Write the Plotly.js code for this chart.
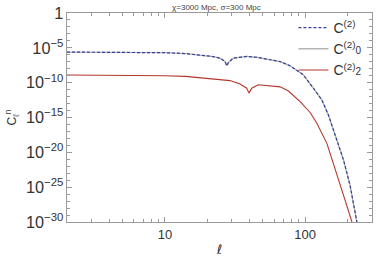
<!DOCTYPE html>
<html><head><meta charset="utf-8">
<script src="https://cdn.plot.ly/plotly-3.0.1.min.js"></script>
<style>html,body{margin:0;padding:0;background:#fff}#c{width:390px;height:260px}</style>
</head><body><div id="c"></div>
<script>
// multipole ell values and log10 of C_ell for each series
const ellC2 = [2,4,7,10,14,17.8,22,24.7,26.8,27.6,28.4,30.7,34,38.3,45,56.2,66.3,78.1,97.2,114.6,131.6,146.6,159.2,187.9,209,234];
const logC2 = [-5.61,-5.62,-5.65,-5.70,-5.82,-6.0,-6.25,-6.48,-6.96,-7.58,-7.1,-6.48,-6.32,-6.24,-6.35,-6.72,-6.97,-7.58,-8.88,-10.8,-12.48,-14.64,-16.8,-21.1,-24.7,-30.0];
const ellC20 = ellC2;
const logC20 = logC2;
const ellC22 = [2,4,7,10,14,17.8,24.7,29.1,34.3,38.3,39.8,41.6,46.3,56.2,66.3,76,92.1,108.6,121.2,142.9,158,172.6,193,215.8];
const logC22 = [-8.9,-8.9,-8.93,-9.0,-9.1,-9.27,-9.5,-9.7,-10.2,-10.8,-11.5,-10.8,-10.3,-10.42,-10.6,-11.2,-12.73,-14.28,-15.83,-18.71,-21.55,-24.0,-26.9,-30.0];
const names = ['C<sup>(2)</sup>','C<sup>(2)</sup><span style="font-size:10px">0</span>','C<sup>(2)</sup><span style="font-size:10px">2</span>'];
const titleText = 'χ=3000 Mpc, σ=300 Mpc';

const pw = a => a.map(v => Math.pow(10, v));
const traces = [
  {x: ellC20, y: pw(logC20), name: names[1], mode:'lines', line:{color:'#b3b3b3', width:1.3}, legendrank:2},
  {x: ellC22, y: pw(logC22), name: names[2], mode:'lines', line:{color:'#b5372b', width:1.1}, legendrank:3},
  {x: ellC2, y: pw(logC2), name: names[0], mode:'lines', line:{color:'#34419a', width:1.2, dash:'3px,2px'}, legendrank:1}
];
const axisCommon = {
  type:'log', showline:true, linecolor:'#9a9a9a', linewidth:1, mirror:'ticks',
  ticks:'inside', ticklen:5, tickcolor:'#9a9a9a', showgrid:false, zeroline:false, automargin:false,
  tickfont:{family:'Liberation Sans, Arial', size:13, color:'#333'}
};
const layout = {
  width:390, height:260, margin:{l:67, r:18, t:13, b:38},
  paper_bgcolor:'#fff', plot_bgcolor:'#fff',
  title:{text:titleText, font:{family:'Liberation Sans, Arial', size:8, color:'#444'}, x:0.555, xanchor:'center', y:0.985, yanchor:'top'},
  xaxis: Object.assign({}, axisCommon, {
    range:[Math.log10(2), Math.log10(300)], dtick:1, exponentformat:'none',
    minor:{dtick:'D1', ticks:'inside', ticklen:3, tickcolor:'#9a9a9a'},
    title:{text:'ℓ', font:{family:'DejaVu Sans', size:13, color:'#333'}, standoff:4}
  }),
  yaxis: Object.assign({}, axisCommon, {
    range:[-30, 0], dtick:5, exponentformat:'power',
    minor:{dtick:1, ticks:'inside', ticklen:3, tickcolor:'#9a9a9a'},
    title:{text:'C<sub>ℓ</sub><sup>n</sup>', font:{family:'Liberation Sans, Arial', size:12, color:'#333'}, standoff:6}
  }),
  showlegend:true,
  legend:{x:0.985, y:1.005, xanchor:'right', yanchor:'top', bgcolor:'rgba(0,0,0,0)',
    font:{family:'Liberation Sans, Arial', size:14, color:'#333'}, itemwidth:30, tracegroupgap:0}
};
Plotly.newPlot('c', traces, layout, {displayModeBar:false, staticPlot:true});
</script></body></html>
